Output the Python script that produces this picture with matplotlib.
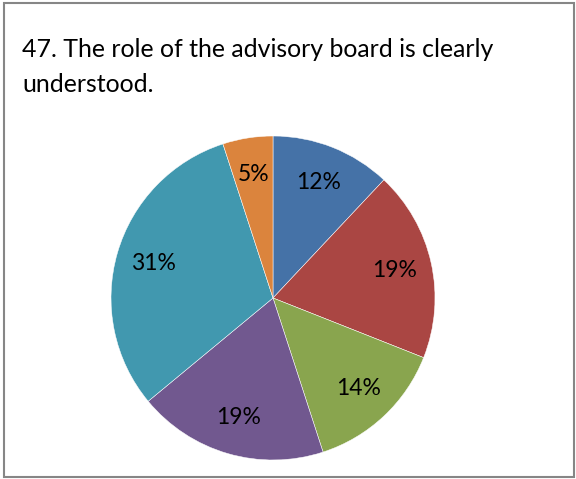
import matplotlib
matplotlib.use("Agg")
import matplotlib.pyplot as plt
from matplotlib import patches

categories = ["A", "B", "C", "D", "E", "F"]
values = [12, 19, 14, 19, 31, 5]
colors = ["#4572A7", "#AA4643", "#89A54E", "#71588F", "#4198AF", "#DB843D"]
title_lines = ["47. The role of the advisory board is clearly", "understood."]

W, H = 576, 479
fig = plt.figure(figsize=(W / 100, H / 100), dpi=100)
fig.patch.set_facecolor("white")

# border
fig.add_artist(patches.Rectangle((3.5 / W, 2.5 / H), 570 / W, 474 / H,
                                 transform=fig.transFigure, fill=False,
                                 edgecolor="#868686", linewidth=1.5))

fam = ["Lato", "DejaVu Sans"]
fig.text(22 / W, 1 - 57 / H, title_lines[0], fontsize=17.9, family=fam,
         va="baseline", ha="left", color="black")
fig.text(22 / W, 1 - 92 / H, title_lines[1], fontsize=17.9, family=fam,
         va="baseline", ha="left", color="black")

cx, cy, r = 273, 298, 162
ax = fig.add_axes([(cx - r) / W, (H - cy - r) / H, 2 * r / W, 2 * r / H])
wedges, texts, autotexts = ax.pie(
    values, colors=colors, startangle=90, counterclock=False,
    autopct=lambda p: f"{p:.0f}%", pctdistance=0.77,
    wedgeprops=dict(edgecolor="white", linewidth=0.35),
    textprops=dict(fontsize=16.5, family=fam, color="black"))
ax.set_xlim(-1, 1)
ax.set_ylim(-1, 1)
ax.set_aspect("equal")
ax.axis("off")

fig.savefig("out.png", dpi=100, facecolor="white")
